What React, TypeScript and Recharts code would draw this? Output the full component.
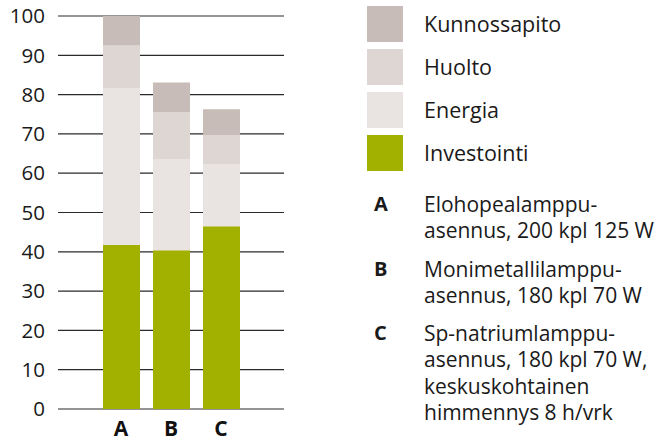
import { BarChart, Bar, XAxis, YAxis, CartesianGrid } from "recharts";

const CATEGORIES = ["A", "B", "C"];
const INVESTOINTI = [41.7, 40.4, 46.5];
const ENERGIA = [40.0, 23.2, 15.8];
const HUOLTO = [10.8, 11.9, 7.4];
const KUNNOSSAPITO = [7.5, 7.6, 6.6];
const Y_TICKS = [0, 10, 20, 30, 40, 50, 60, 70, 80, 90, 100];

const NOTES = [
  { key: "A", lines: ["Elohopealamppu-", "asennus, 200 kpl 125 W"] },
  { key: "B", lines: ["Monimetallilamppu-", "asennus, 180 kpl 70 W"] },
  {
    key: "C",
    lines: [
      "Sp-natriumlamppu-",
      "asennus, 180 kpl 70 W,",
      "keskuskohtainen",
      "himmennys 8 h/vrk",
    ],
  },
];

const SERIES = [
  { key: "investointi", name: "Investointi", color: "#a2b000" },
  { key: "energia", name: "Energia", color: "#e9e4e2" },
  { key: "huolto", name: "Huolto", color: "#ddd6d3" },
  { key: "kunnossapito", name: "Kunnossapito", color: "#c8bcb8" },
];

const data = CATEGORIES.map((c, i) => ({
  name: c,
  investointi: INVESTOINTI[i],
  energia: ENERGIA[i],
  huolto: HUOLTO[i],
  kunnossapito: KUNNOSSAPITO[i],
}));

const FONT = "'Open Sans', sans-serif";

export default function App() {
  const legendItems = [...SERIES].reverse();
  return (
    <div
      style={{
        position: "absolute",
        left: 0,
        top: 0,
        width: 664,
        height: 441,
        background: "#fff",
        fontFamily: FONT,
        color: "#1a1a1a",
      }}
    >
      <BarChart
        width={664}
        height={441}
        data={data}
        margin={{ top: 16, right: 380, left: 0, bottom: 0 }}
        barSize={37}
      >
        <CartesianGrid vertical={false} stroke="#2a2a2a" strokeWidth={1.2} />
        <XAxis
          dataKey="name"
          height={32}
          axisLine={false}
          tickLine={false}
          padding={{ left: 38, right: 38 }}
          tick={{ fill: "#111", fontSize: 21, fontWeight: 700, fontFamily: FONT }}
          tickSize={0}
          tickMargin={12}
        />
        <YAxis
          width={58}
          domain={[0, 100]}
          ticks={Y_TICKS}
          axisLine={false}
          tickLine={false}
          tickSize={0}
          tickMargin={13}
          tick={{ fill: "#1a1a1a", fontSize: 20.5, fontFamily: FONT }}
        />
        {SERIES.map((s) => (
          <Bar
            key={s.key}
            dataKey={s.key}
            name={s.name}
            stackId="a"
            fill={s.color}
            isAnimationActive={false}
          />
        ))}
      </BarChart>
      {legendItems.map((s, i) => (
        <div key={s.key}>
          <div
            style={{
              position: "absolute",
              left: 367,
              top: 6 + i * 43,
              width: 36,
              height: 36,
              background: s.color,
            }}
          />
          <div
            style={{
              position: "absolute",
              left: 424,
              top: 6 + i * 43,
              height: 36,
              lineHeight: "36px",
              fontSize: 21.5,
            }}
          >
            {s.name}
          </div>
        </div>
      ))}
      {NOTES.map((n, i) => (
        <div
          key={n.key}
          style={{ position: "absolute", left: 374, top: [191, 256, 320][i] }}
        >
          <div
            style={{
              position: "absolute",
              left: 0,
              top: 0,
              fontWeight: 700,
              fontSize: 20,
              lineHeight: "26px",
            }}
          >
            {n.key}
          </div>
          {n.lines.map((l, j) => (
            <div
              key={l}
              style={{
                position: "absolute",
                left: 50,
                top: j * 26.3,
                height: 26,
                fontSize: 21,
                lineHeight: "26px",
                whiteSpace: "nowrap",
              }}
            >
              {l}
            </div>
          ))}
        </div>
      ))}
    </div>
  );
}
